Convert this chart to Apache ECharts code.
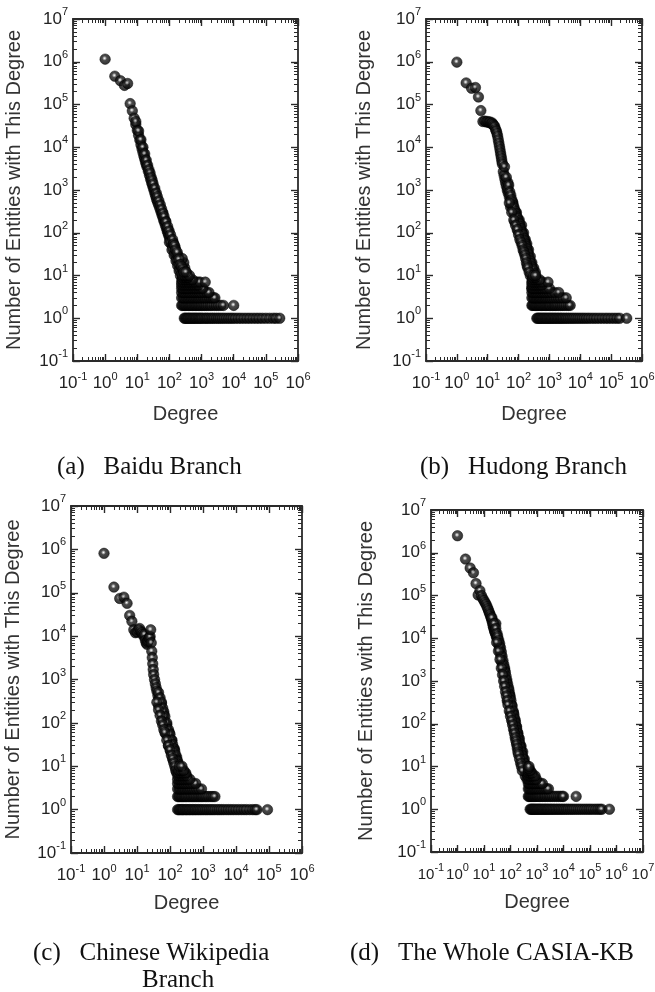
<!DOCTYPE html>
<html>
<head>
<meta charset="utf-8">
<script src="https://cdn.jsdelivr.net/npm/echarts@6/dist/echarts.min.js"></script>
<style>
html, body { margin: 0; padding: 0; background: #fff; }
#chart { width: 655px; height: 992px; }
</style>
</head>
<body>
<div id="chart"></div>
<script>
// degree distributions, [degree, number of entities]
const baiduBand = [
  [1, 1.15e6], [2, 4.6e5], [3, 3.6e5], [4, 2.8e5], [5, 3.1e5], [6, 1.05e5], [7, 7.1e4], [8, 4.8e4],
  [9, 3.4e4], [10, 2.5e4], [11, 1.9e4], [12, 1.48e4], [13, 1.15e4], [14, 9300], [15, 7600], [16, 6300],
  [17, 5400], [18, 4600], [19, 4000], [20, 3500], [22, 2750], [24, 2200], [26, 1780], [28, 1480],
  [30, 1260], [32, 1080], [34, 930], [36, 800], [38, 700], [40, 600], [43, 520], [46, 450], [50, 380],
  [54, 320], [58, 270], [62, 235], [66, 200], [70, 175], [75, 150], [80, 130], [85, 112], [90, 98],
  [95, 88], [100, 78], [105, 70], [110, 63], [115, 57], [120, 52], [130, 44], [140, 38], [150, 33],
  [160, 29], [170, 25], [180, 22], [190, 20], [200, 18], [210, 15], [220, 14], [230, 12], [245, 11],
  [260, 10], [60, 300], [75, 190], [90, 120], [100, 60], [120, 40], [130, 60], [140, 30], [150, 45],
  [160, 22], [170, 32], [180, 17], [190, 28], [200, 13], [210, 22], [220, 10], [230, 16], [250, 8],
  [270, 13], [280, 9], [300, 15], [330, 12], [350, 10], [280, 20], [250, 25], [320, 9], [400, 8]
]
const baiduSpread = [
  [9, 4e4], [11, 2.4e4], [13, 1.5e4], [15, 1e4], [17, 7000], [19, 5000], [21, 3800], [23, 3000],
  [25, 2500], [27, 2000], [29, 1700], [31, 1400], [35, 1100], [39, 850], [42, 700], [47, 560],
  [52, 450], [57, 360], [63, 290], [68, 240], [78, 180], [88, 140], [98, 110], [108, 90], [125, 70],
  [135, 55], [145, 50], [155, 40], [175, 35], [195, 24], [215, 18], [240, 16], [265, 14], [290, 12]
]
const baiduRows = [
  [1, [290, 310, 340, 370, 400, 440, 480, 530, 580, 640, 700, 780, 860, 950, 1050, 1200, 1350, 1500,
    1700, 1950, 2200, 2500, 2900, 3300, 3800, 4400, 5100, 6000, 7000, 8200, 9600, 11500, 14000, 17000,
    21000, 26000, 32000, 40000, 50000, 62000, 78000, 100000, 130000, 170000, 210000, 270000]],
  [2, [240, 260, 290, 320, 350, 390, 430, 470, 520, 580, 640, 710, 790, 880, 980, 1100, 1250, 1400,
    1600, 1850, 2100, 2500, 2900, 3400, 4000, 4800, 10000]],
  [3, [240, 270, 300, 340, 380, 430, 480, 540, 610, 690, 780, 880, 1000, 1150, 1300, 1500, 1750, 2000, 2300, 2600]],
  [4, [240, 270, 300, 340, 390, 440, 500, 570, 650, 750, 860, 1000, 1200, 1450, 1700]],
  [5, [240, 270, 310, 350, 400, 460, 530, 610, 700, 810, 950, 1100]],
  [6, [240, 280, 320, 370, 430, 500, 580, 680, 800]],
  [7, [240, 280, 330, 390, 460, 540, 640, 760, 900, 1300]],
  [8, [250, 300, 360, 430, 520]],
  [9, [260, 310, 380]],
  [10, [260, 300, 350, 420]],
  [12, [280, 330]]
]

const hudongBand = [
  [1, 9.8e5], [2, 3.2e5], [3, 2.4e5], [4, 2.5e5], [5, 1.5e5], [6, 7.2e4], [7, 4e4], [8, 4.1e4],
  [9, 3.9e4], [10, 4e4], [11, 3.8e4], [12, 3.9e4], [13, 3.6e4], [14, 3.7e4], [15, 3.4e4], [16, 3.2e4],
  [17, 3.0e4], [18, 2.6e4], [19, 2.4e4], [20, 2.1e4], [21, 1.8e4], [22, 1.5e4], [23, 1.25e4],
  [24, 1.05e4], [25, 8800], [26, 7400], [27, 6300], [28, 5400], [29, 4600], [30, 4000], [32, 2700],
  [34, 2200], [36, 1800], [38, 1500], [40, 1250], [43, 1000], [46, 850], [50, 700], [54, 580],
  [58, 480], [62, 410], [66, 360], [70, 310], [75, 270], [80, 230], [85, 210], [90, 185], [95, 165],
  [100, 150], [105, 135], [110, 120], [120, 100], [130, 85], [140, 72], [150, 62], [160, 52],
  [170, 44], [180, 38], [190, 33], [200, 28], [215, 24], [230, 20], [245, 17], [260, 14], [280, 12],
  [300, 10], [45, 1500], [55, 400], [65, 500], [75, 180], [85, 300], [95, 110], [105, 200], [115, 80],
  [125, 150], [135, 55], [145, 100], [155, 40], [165, 70], [175, 30], [185, 55], [195, 22], [210, 40],
  [225, 15], [240, 28], [255, 11], [270, 20], [290, 8], [310, 15], [330, 9], [350, 12], [380, 8],
  [300, 6], [280, 7], [350, 6], [320, 5], [270, 5], [420, 7]
]
const hudongSpread = [
  [35, 3500], [40, 2000], [45, 1100], [48, 1300], [52, 900], [56, 750], [60, 600], [64, 520], [68, 430],
  [72, 380], [78, 320], [82, 280], [88, 240], [92, 220], [98, 190], [102, 170], [108, 160], [112, 140],
  [118, 125], [122, 110], [128, 100], [138, 90], [148, 75], [158, 65], [168, 55], [178, 48], [188, 42],
  [198, 36], [205, 32], [220, 26], [235, 22], [250, 19], [265, 16], [285, 14], [320, 11], [360, 9],
  [50, 500], [60, 300], [70, 200], [80, 150], [90, 120], [100, 90], [110, 70], [120, 60], [130, 50],
  [140, 40], [150, 35], [160, 30], [170, 25], [180, 20], [190, 17], [200, 15], [220, 12], [240, 10]
]
const hudongRows = [
  [1, [390, 420, 460, 500, 550, 600, 660, 730, 800, 880, 970, 1070, 1180, 1300, 1450, 1600, 1800, 2000,
    2250, 2500, 2800, 3200, 3600, 4100, 4700, 5400, 6200, 7200, 8400, 9800, 11500, 13500, 16000, 19000,
    23000, 28000, 34000, 42000, 52000, 65000, 80000, 100000, 125000, 155000, 190000, 320000]],
  [2, [270, 290, 320, 350, 380, 420, 460, 500, 550, 610, 670, 740, 820, 900, 1000, 1100, 1250, 1400,
    1550, 1750, 2000, 2300, 2600, 3000, 3500, 4100, 4700]],
  [3, [270, 300, 330, 370, 410, 460, 510, 570, 640, 720, 810, 920, 1050, 1200, 1400, 1650, 1950, 2300, 2800, 3500]],
  [4, [270, 300, 340, 380, 430, 490, 560, 640, 730, 850, 1000, 1200, 1500, 2000]],
  [5, [270, 300, 340, 390, 450, 520, 600, 700, 820, 1000]],
  [6, [270, 310, 360, 420, 490, 570]],
  [7, [270, 310, 360, 420, 500, 600, 900]],
  [8, [280, 330, 400, 480]],
  [9, [290, 350]],
  [10, [300, 360]]
]

const wikiBand = [
  [1, 8.1e5], [2, 1.35e5], [3, 7.4e4], [4, 7.9e4], [5, 5.7e4], [6, 3e4], [7, 2.2e4], [8, 1.4e4],
  [9, 1.2e4], [10, 1.25e4], [11, 1.4e4], [12, 1.5e4], [13, 1.3e4], [14, 1.2e4], [15, 1.1e4],
  [16, 1.0e4], [17, 1.1e4], [18, 8000], [19, 7000], [20, 6500], [21, 7500], [22, 8000], [23, 9000],
  [24, 9000], [25, 9800], [26, 1.4e4], [27, 7000], [28, 4500], [29, 3200], [30, 2300], [31, 1700],
  [32, 1300], [34, 1000], [36, 800], [38, 650], [40, 540], [43, 430], [46, 350], [50, 260], [54, 200],
  [58, 160], [62, 130], [66, 108], [70, 92], [75, 76], [80, 64], [85, 54], [90, 46], [95, 40],
  [100, 36], [110, 28], [120, 22], [130, 18], [140, 15], [150, 13], [160, 11], [170, 9], [180, 8],
  [45, 250], [55, 280], [60, 120], [65, 160], [75, 55], [80, 90], [90, 30], [95, 60], [105, 22],
  [115, 40], [125, 14], [135, 25], [150, 9], [160, 16], [170, 12], [190, 7], [200, 10], [210, 6],
  [230, 8], [250, 5], [220, 5], [270, 6], [300, 4], [280, 7]
]
const wikiSpread = [
  [45, 500], [50, 380], [55, 300], [60, 220], [65, 180], [70, 140], [80, 100], [90, 70], [100, 55],
  [110, 40], [120, 32], [130, 26], [140, 22], [150, 18], [160, 14], [170, 13], [180, 11], [190, 9],
  [200, 8], [210, 7], [40, 300], [45, 200], [50, 150], [55, 110], [60, 90], [65, 70], [70, 60],
  [80, 40], [90, 30], [100, 24], [110, 18], [120, 15], [130, 12], [140, 10], [150, 8], [160, 7]
]
const wikiRows = [
  [1, [170, 185, 200, 220, 240, 260, 290, 320, 350, 390, 430, 480, 530, 590, 660, 740, 830, 930, 1050,
    1200, 1350, 1550, 1750, 2000, 2300, 2700, 3100, 3600, 4200, 5000, 5900, 7000, 8300, 10000, 12000,
    14500, 17500, 21000, 26000, 32000, 38000, 43000, 90000]],
  [2, [170, 185, 200, 220, 240, 265, 290, 320, 360, 400, 450, 500, 560, 630, 710, 800, 900, 1000, 1150,
    1300, 1500, 1750, 2000, 2300]],
  [3, [170, 190, 210, 235, 260, 290, 330, 370, 420, 480, 550, 640, 750, 900]],
  [4, [170, 190, 215, 240, 270, 310, 360, 420, 500, 600]],
  [5, [170, 195, 220, 250, 290, 340, 400]],
  [6, [175, 200, 230, 270, 320]],
  [7, [180, 210, 250, 300]],
  [8, [185, 220, 260]],
  [10, [190, 230]]
]

const wholeBand = [
  [1, 2.5e6], [2, 7.1e5], [3, 4.4e5], [4, 3.4e5], [5, 1.9e5], [6, 1.03e5], [7, 1.3e5], [8, 1.0e5],
  [9, 8.5e4], [10, 7.6e4], [11, 6.8e4], [12, 6.2e4], [13, 5.5e4], [14, 4.9e4], [15, 4.4e4],
  [16, 3.9e4], [17, 3.6e4], [18, 3.2e4], [19, 2.9e4], [20, 2.6e4], [21, 2.3e4], [22, 2.0e4],
  [23, 1.8e4], [24, 1.65e4], [25, 1.5e4], [26, 1.4e4], [27, 1.3e4], [28, 2.2e4], [29, 1.15e4],
  [30, 1.05e4], [32, 1e4], [34, 8500], [36, 7200], [38, 6000], [40, 5000], [43, 3900], [46, 2800],
  [50, 2200], [54, 1700], [58, 1350], [62, 1080], [66, 870], [70, 730], [75, 600], [80, 500],
  [85, 420], [90, 350], [95, 300], [100, 250], [110, 190], [120, 150], [130, 120], [140, 100],
  [150, 82], [160, 68], [170, 56], [180, 47], [190, 40], [200, 35], [215, 29], [230, 24], [250, 20],
  [270, 16], [290, 13], [310, 11], [340, 9.5], [370, 8], [400, 7], [60, 1800], [70, 1000], [80, 350],
  [90, 500], [100, 180], [110, 280], [120, 110], [130, 180], [140, 70], [150, 120], [160, 50],
  [170, 85], [180, 34], [190, 60], [200, 26], [215, 45], [230, 18], [250, 30], [270, 12], [290, 22],
  [310, 9], [330, 15], [360, 6], [380, 11], [420, 9], [450, 6], [500, 8], [420, 5]
]
const wholeSpread = [
  [20, 3e4], [24, 2.2e4], [28, 1.7e4], [31, 1.3e4], [33, 1.1e4], [36, 9000], [39, 7500], [42, 6000],
  [45, 4800], [48, 3800], [52, 3000], [56, 2400], [60, 2000], [64, 1600], [68, 1300], [73, 1050],
  [78, 850], [84, 700], [88, 600], [94, 480], [98, 420], [104, 350], [115, 260], [125, 200], [135, 160],
  [145, 130], [155, 105], [165, 85], [175, 70], [185, 60], [195, 50], [210, 40], [225, 34], [240, 28],
  [260, 22], [280, 18], [300, 15], [330, 12], [360, 10], [390, 9], [430, 8], [470, 7],
  [30, 8000], [35, 5000], [40, 3200], [45, 2000], [50, 1400], [55, 1000], [60, 750], [65, 560],
  [70, 450], [75, 350], [80, 280], [90, 200], [100, 150], [110, 120], [120, 95], [130, 75], [140, 60],
  [150, 48], [160, 40], [170, 33], [180, 27], [190, 22], [200, 19], [220, 15], [240, 12], [260, 10], [280, 8]
]
const wholeRows = [
  [1, [550, 600, 660, 720, 790, 870, 960, 1060, 1170, 1300, 1450, 1600, 1800, 2000, 2250, 2500, 2800,
    3200, 3600, 4100, 4700, 5400, 6200, 7100, 8200, 9500, 11000, 13000, 15000, 18000, 21000, 25000,
    30000, 36000, 43000, 52000, 63000, 76000, 92000, 110000, 135000, 165000, 200000, 240000, 280000, 540000]],
  [2, [470, 510, 560, 610, 670, 740, 820, 900, 1000, 1100, 1250, 1400, 1600, 1850, 2100, 2450, 2850,
    3300, 3900, 4600, 5500, 6500, 7700, 9000, 10000, 30000]],
  [3, [470, 520, 580, 650, 730, 820, 930, 1050, 1200, 1400, 1650, 1950, 2300, 2700]],
  [4, [470, 520, 580, 650, 740, 850, 980, 1150, 1350, 1600]],
  [5, [470, 530, 600, 690, 800, 950]],
  [6, [470, 540, 620, 720, 850]],
  [7, [480, 560, 650]],
  [8, [480, 560]],
  [9, [490]],
  [10, [500]]
]

const xMax = [1e6, 1e6, 1e6, 1e7]
const captions = ['(a)   Baidu Branch', '(b)   Hudong Branch', '(c)   Chinese Wikipedia', '(d)   The Whole CASIA-KB']

const panels = [
  { left: 73, top: 19, width: 225, height: 342, yGap: 49, xGap: 43, fs: 17 },
  { left: 426, top: 19, width: 216, height: 342, yGap: 52, xGap: 43, fs: 17 },
  { left: 71, top: 506, width: 231, height: 347, yGap: 48, xGap: 40, fs: 17 },
  { left: 431, top: 510, width: 212, height: 342, yGap: 55, xGap: 40, fs: 15 }
]

function points (band, spread, rows) {
  const out = band.concat(spread)
  rows.forEach(function (row) {
    row[1].forEach(function (d) { out.push([d, row[0]]) })
  })
  return out
}

function powLabel (value) {
  const e = Math.round(Math.log10(value))
  return '{b|10}{s|' + e + '}'
}

const lineColor = '#2a2a2a'
const fontSans = '"Liberation Sans", Arial, sans-serif'

function richFor (fs) {
  return {
    b: { fontSize: fs, fontFamily: fontSans, color: '#222', lineHeight: 25 },
    s: { fontSize: 11, fontFamily: fontSans, color: '#222', lineHeight: 13, verticalAlign: 'top' }
  }
}

function axisCommon (showLabel, fs) {
  return {
    type: 'log',
    logBase: 10,
    axisLine: { show: true, onZero: false, lineStyle: { color: lineColor, width: 1.8 } },
    axisTick: { show: true, inside: true, length: 7, lineStyle: { color: lineColor, width: 1.4 } },
    minorTick: { show: true, splitNumber: 9, length: 4, lineStyle: { color: lineColor, width: 1 } },
    splitLine: { show: false },
    minorSplitLine: { show: false },
    axisLabel: {
      show: showLabel,
      formatter: powLabel,
      rich: richFor(fs)
    }
  }
}

const ball = {
  type: 'radial', x: 0.45, y: 0.42, r: 0.55,
  colorStops: [
    { offset: 0, color: '#ffffff' },
    { offset: 0.16, color: '#a8a8a8' },
    { offset: 0.38, color: '#1e1e1e' },
    { offset: 1, color: '#000000' }
  ]
}

const allData = [
  points(baiduBand, baiduSpread, baiduRows),
  points(hudongBand, hudongSpread, hudongRows),
  points(wikiBand, wikiSpread, wikiRows),
  points(wholeBand, wholeSpread, wholeRows)
]

const grid = []
const xAxis = []
const yAxis = []
const series = []

panels.forEach(function (p, i) {
  grid.push({ left: p.left, top: p.top, width: p.width, height: p.height, outerBoundsMode: 'none' })

  const xb = axisCommon(true, p.fs)
  xb.gridIndex = i
  xb.position = 'bottom'
  xb.min = 0.1
  xb.max = xMax[i]
  xb.axisLabel.margin = 10
  xb.name = 'Degree'
  xb.nameLocation = 'middle'
  xb.nameGap = p.xGap
  xb.nameTextStyle = { fontSize: 20, fontFamily: fontSans, color: '#333', verticalAlign: 'top' }
  xAxis.push(xb)

  const xt = axisCommon(false, p.fs)
  xt.gridIndex = i
  xt.position = 'top'
  xt.min = 0.1
  xt.max = xMax[i]
  xAxis.push(xt)

  const yl = axisCommon(true, 17)
  yl.gridIndex = i
  yl.position = 'left'
  yl.min = 0.1
  yl.max = 1e7
  yl.axisLabel.margin = 5
  yl.name = 'Number of Entities with This Degree'
  yl.nameLocation = 'middle'
  yl.nameGap = p.yGap
  yl.nameRotate = 90
  yl.nameTextStyle = { fontSize: 20, fontFamily: fontSans, color: '#333' }
  yAxis.push(yl)

  const yr = axisCommon(false, 17)
  yr.gridIndex = i
  yr.position = 'right'
  yr.min = 0.1
  yr.max = 1e7
  yAxis.push(yr)

  series.push({
    type: 'scatter',
    xAxisIndex: 2 * i,
    yAxisIndex: 2 * i,
    symbol: 'circle',
    symbolSize: 10.5,
    data: allData[i],
    itemStyle: { color: ball, borderColor: '#000', borderWidth: 0.6 }
  })
})

const serif = '25px "Liberation Serif", "Times New Roman", serif'
const graphic = [
  { type: 'text', left: 57, top: 455, style: { text: captions[0], font: serif, fill: '#111' } },
  { type: 'text', left: 420, top: 455, style: { text: captions[1], font: serif, fill: '#111' } },
  { type: 'text', left: 33, top: 941, style: { text: captions[2], font: serif, fill: '#111' } },
  { type: 'text', left: 142, top: 968, style: { text: 'Branch', font: serif, fill: '#111' } },
  { type: 'text', left: 350, top: 941, style: { text: captions[3], font: serif, fill: '#111' } }
]

const myChart = echarts.init(document.getElementById('chart'), null, { renderer: 'canvas' })
myChart.setOption({
  animation: false,
  backgroundColor: '#fff',
  grid: grid,
  xAxis: xAxis,
  yAxis: yAxis,
  series: series,
  graphic: graphic
})
</script>
</body>
</html>
